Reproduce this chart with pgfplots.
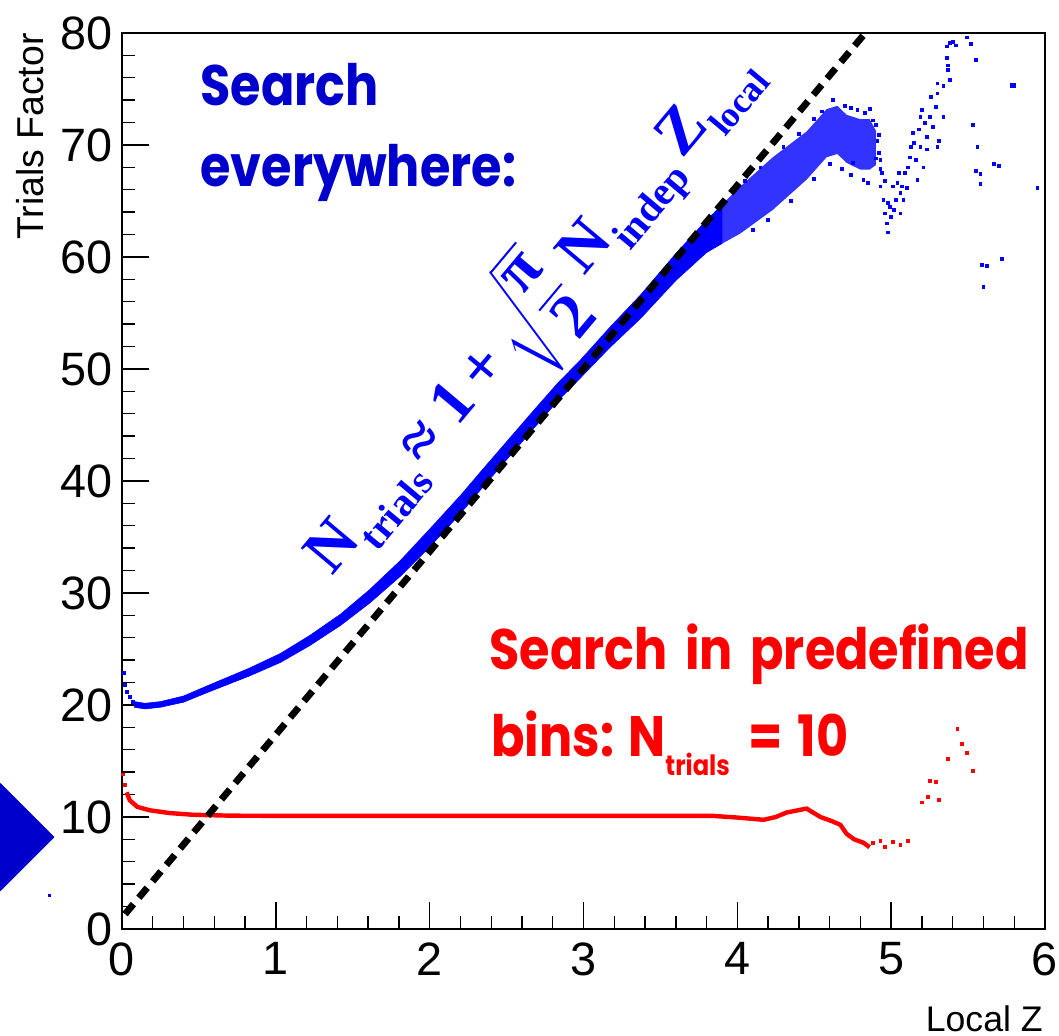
\documentclass[border=0pt]{standalone}
\usepackage{pgfplots}
\pgfplotsset{compat=1.18}
\usepackage{exscale}
\usepackage{fontspec}
\setmainfont{Liberation Sans}
\newfontfamily\tnr{Liberation Serif}
\newfontfamily\geo[FakeStretch=0.865]{Poppins}
\definecolor{dblue}{RGB}{0,0,204}
\definecolor{pblue}{RGB}{0,0,255}
\definecolor{pred}{RGB}{255,0,0}
\newcommand\sub[2][20]{\hspace{1pt}\raisebox{-0.3em}{\fontsize{#1}{24}\selectfont #2}}
\begin{document}
\begin{tikzpicture}
\begin{axis}[
 scale only axis, width=461.5pt, height=448pt,
 xmin=0, xmax=6, ymin=0, ymax=80,
 xtick={0,...,6}, ytick={0,10,...,80},
 minor x tick num=4, minor y tick num=4,
 tick pos=left, tick align=inside,
 major tick length=13.5pt, minor tick length=6.5pt,
 tick style={black, line width=0.7pt},
 axis line style={line width=0.6pt},
 ticklabel style={font=\fontsize{23.4}{28}\selectfont},
 /pgf/number format/assume math mode=true,
 xticklabel style={inner sep=0pt, yshift=-6.5pt},
 yticklabel style={inner sep=0pt, xshift=-4.5pt},
 clip=false,
]
% speckled wide part of the blue band
\addplot[fill=pblue!80, draw=none] coordinates {
(3.85,60.8)(4.02,62.1)(4.23,64.2)(4.45,66.9)(4.58,68.9)(4.65,69.2)(4.71,68.4)(4.80,67.8)(4.86,67.8)(4.90,68.2)
(4.90,71.3)(4.86,72.3)(4.80,72.3)(4.71,72.7)(4.65,73.5)(4.58,73.2)(4.45,71.2)(4.23,68.9)(4.02,66.3)(3.85,64.0)
} -- cycle;
% solid narrow part of the blue band
\addplot[fill=pblue, draw=pblue, line width=0.3pt] coordinates {
(0.08,19.8)(0.15,19.65)(0.25,19.8)(0.40,20.25)(0.57,21.2)(0.83,22.6)(1.03,23.8)(1.22,25.3)(1.42,27.1)(1.61,29.1)(1.81,31.5)
(2.00,34.1)(2.20,37.1)(2.33,39.2)(2.50,41.9)(2.67,44.6)(2.83,47.1)(2.98,49.2)(3.17,51.9)(3.37,54.5)(3.60,57.9)(3.80,60.4)(3.90,61.2)
(3.90,64.6)(3.80,63.3)(3.60,60.3)(3.37,56.6)(3.17,53.7)(2.98,50.8)(2.83,48.7)(2.67,46.2)(2.50,43.5)(2.33,40.8)(2.20,38.7)(2.00,35.7)
(1.81,32.9)(1.61,30.3)(1.42,28.1)(1.22,26.2)(1.03,24.6)(0.83,23.3)(0.57,21.8)(0.40,20.8)(0.25,20.3)(0.15,20.15)(0.08,20.3)
} -- cycle;
% sparse blue points
\addplot[only marks, mark=square*, mark size=0.7pt, color=pblue] coordinates {
(0.01,22.9)(0.02,21.8)(0.03,21.2)(0.05,20.7)(0.07,20.3)
(4.05,66.8)(4.15,68.0)(4.30,69.8)(4.40,71.0)(4.50,72.3)(4.55,73.0)(4.62,74.0)(4.70,73.5)(4.74,73.3)(4.83,72.9)(4.86,73.2)
(4.10,62.4)(4.20,63.3)(4.35,65.0)(4.50,67.0)(4.60,68.3)(4.68,67.9)(4.74,67.3)(4.82,66.9)(4.85,66.6)
(4.90,71.8)(4.92,70.9)(4.92,69.3)(4.90,68.8)(4.93,67.9)
(4.75,68.4)(4.78,73.1)(4.88,72.2)(4.91,70.4)(4.93,68.7)(4.94,67.5)(4.93,66.3)(4.95,65.1)(4.96,63.9)(4.97,63.0)(4.98,62.2)
(4.99,64.5)(5.01,66.3)(5.03,65.1)(5.05,67.5)(5.06,65.7)(5.06,63.9)(5.07,66.3)(5.09,67.5)(5.08,65.1)(5.11,68.0)(5.12,68.9)
(5.14,71.1)(5.16,68.7)(5.17,66.9)(5.19,72.5)(5.19,69.8)(5.20,73.1)(5.21,68.0)(5.23,69.6)(5.23,70.7)(5.25,72.5)(5.26,74.3)
(5.27,71.6)(5.29,73.4)(5.30,74.6)(5.30,69.8)(5.31,70.4)(5.30,75.5)(5.34,75.3)(5.34,72.5)(5.36,77.8)(5.37,77.1)(5.37,76.7)
(5.38,75.8)(5.36,78.8)(5.38,79.1)(5.40,79.2)(5.42,78.9)(5.49,79.6)(5.52,79.0)(5.55,77.6)
(5.53,71.8)(5.56,69.8)(5.55,67.7)(5.58,66.5)(5.58,67.4)(5.67,68.3)(5.70,68.1)(5.95,66.2)
(5.72,59.8)(5.59,59.3)(5.62,59.2)(5.60,57.3)
(4.96,66.8)(4.98,64.8)(5.00,63.6)(5.02,64.2)(5.04,66.6)(5.10,66.2)(5.13,69.8)(5.15,70.2)(5.18,71.4)(5.22,72.0)
};
\addplot[only marks, mark=square*, mark size=1.1pt, color=pblue] coordinates {(5.79,75.3)};
% red curve
\addplot[pred, line width=2.2pt] coordinates {
(0.03,12.2)(0.05,11.5)(0.10,10.9)(0.18,10.6)(0.31,10.35)(0.46,10.2)(0.70,10.12)(1.00,10.1)(2.00,10.1)(3.00,10.1)
(3.84,10.1)(4.00,9.95)(4.17,9.75)(4.25,10.0)(4.32,10.4)(4.45,10.75)(4.54,10.0)(4.62,9.6)(4.67,9.3)(4.71,8.5)(4.76,8.0)(4.82,7.7)(4.86,7.3)
};
\addplot[only marks, mark=square*, mark size=0.7pt, color=pred] coordinates {
(0.005,13.8)(0.02,12.9)
(4.88,7.7)(4.93,7.9)(4.96,7.3)(5.01,7.8)(5.06,7.5)(5.11,7.9)
(5.20,11.3)(5.24,11.8)(5.25,13.2)(5.29,13.1)(5.31,11.5)(5.37,15.2)(5.43,17.9)(5.46,16.5)(5.49,15.7)(5.53,14.1)
};
% dashed line
\addplot[black, line width=3.4pt, dash pattern=on 6.5pt off 4.2pt] coordinates {(0.02,1.33)(4.832,80)};
% marker outside the frame
\addplot[only marks, mark=square*, mark size=18.9pt, mark options={rotate=45}, color=dblue] coordinates {(-0.79,8.2)};
\addplot[only marks, mark=square*, mark size=0.5pt, color=pblue] coordinates {(-0.47,3.0)};
% texts
\node[anchor=base west, inner sep=0pt, text=dblue, font=\geo\bfseries\fontsize{28.5}{34}\selectfont] at (axis cs:0.507,73.57) {Search};
\node[anchor=base west, inner sep=0pt, text=dblue, font=\geo\bfseries\fontsize{28.5}{34}\selectfont] at (axis cs:0.507,66.25) {everywhere:};
\node[anchor=base west, inner sep=0pt, text=pred, font=\geo\bfseries\fontsize{28.5}{34}\selectfont] at (axis cs:2.386,23.125) {Search\hspace{3.5pt} in\hspace{3.5pt} predefined};
\node[anchor=base west, inner sep=0pt, text=pred, font=\geo\bfseries\fontsize{28.5}{34}\selectfont] at (axis cs:2.399,15.36) {bins:};
\node[anchor=base west, inner sep=0pt, text=pred, font=\geo\bfseries\fontsize{28.5}{34}\selectfont] at (axis cs:3.29,15.36) {N};
\node[anchor=base west, inner sep=0pt, text=pred, font=\geo\bfseries\fontsize{14}{16}\selectfont] at (axis cs:3.53,13.66) {trials};
\node[anchor=base west, inner sep=0pt, text=pred, font=\geo\bfseries\fontsize{28.5}{34}\selectfont] at (axis cs:4.07,15.36) {=};
\node[anchor=base west, inner sep=0pt, text=pred, font=\geo\bfseries\fontsize{28.5}{34}\selectfont] at (axis cs:4.39,15.36) {10};
\node[rotate=50, anchor=base west, inner sep=0pt, text=pblue, font=\tnr\bfseries\fontsize{32}{38}\selectfont] at (axis cs:1.365,31.43)
 {N\sub{trials}\hspace{3pt}≈\hspace{8pt}1\hspace{6pt}+\hspace{5pt}$\sqrt{\displaystyle\frac{\mbox{π}}{\mbox{2}}}$\hspace{9pt}N\sub{indep}\hspace{4pt}Z\sub[18]{local}};
\end{axis}
\node[rotate=90, anchor=base east, inner sep=0pt, font=\fontsize{18.7}{22}\selectfont] at (-39.5pt,448pt) {Trials Factor};
\node[anchor=base east, inner sep=0pt, font=\fontsize{17.8}{22}\selectfont] at (460.5pt,-51.5pt) {Local Z};
\pgfresetboundingbox
\path[use as bounding box] (-61pt,-53.5pt) rectangle (468.5pt,464.5pt);
\end{tikzpicture}
\end{document}
